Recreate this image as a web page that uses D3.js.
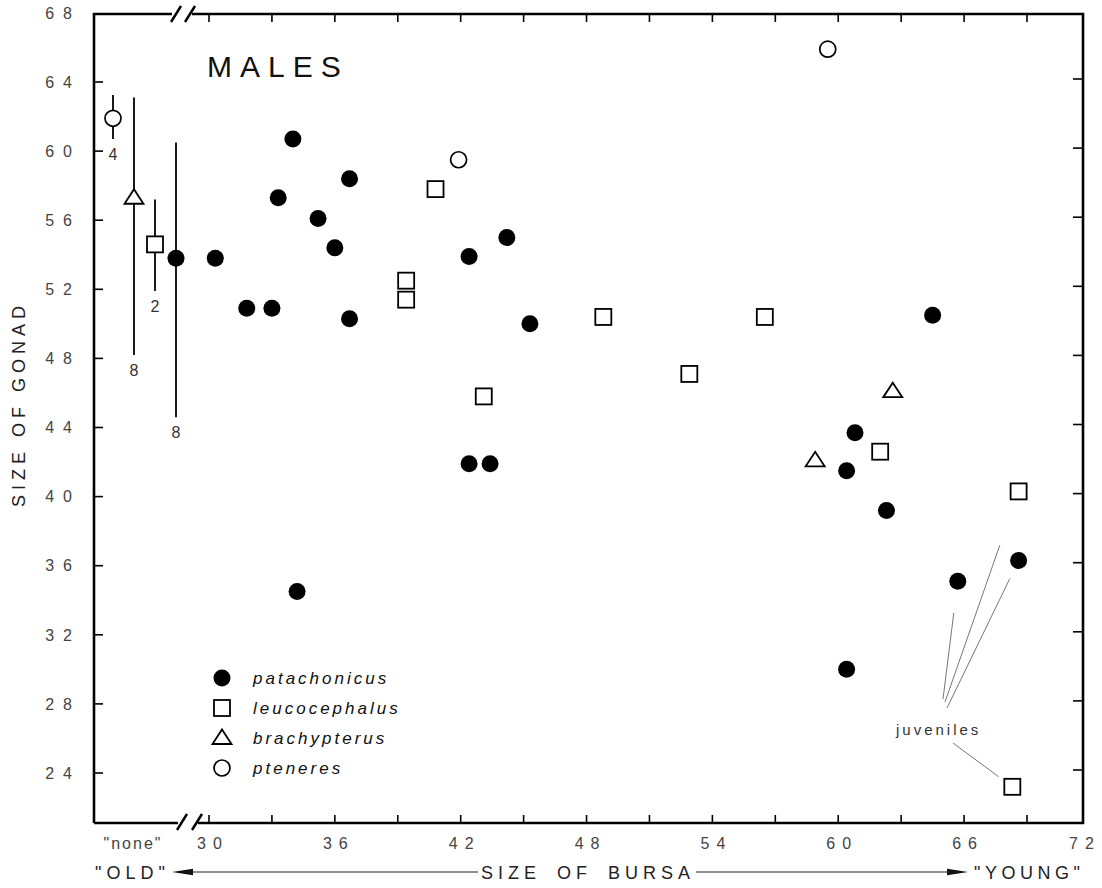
<!DOCTYPE html>
<html><head><meta charset="utf-8">
<script src="https://cdn.jsdelivr.net/npm/d3@7"></script>
<style>body{margin:0;background:#fff}svg{display:block}</style>
</head><body><svg id="c" width="1102" height="888"></svg>
<script>
// ---------- data ----------
const species = ["patachonicus", "leucocephalus", "brachypterus", "pteneres"];
const yTicks = [24, 28, 32, 36, 40, 44, 48, 52, 56, 60, 64, 68];
const xMinorTicks = [30, 33, 36, 39, 42, 45, 48, 51, 54, 57, 60, 63, 66, 69];
const xLabelTicks = [30, 36, 42, 48, 54, 60, 66, 72];

const patachonicusX = [30.3, 31.8, 33.0, 33.3, 34.0, 35.2, 36.0, 36.7, 36.7, 34.2, 42.4, 44.2, 45.3, 42.4, 43.4, 64.5, 60.8, 60.4, 62.3, 65.7, 68.6, 60.4];
const patachonicusY = [53.8, 50.9, 50.9, 57.3, 60.7, 56.1, 54.4, 58.4, 50.3, 34.5, 53.9, 55.0, 50.0, 41.9, 41.9, 50.5, 43.7, 41.5, 39.2, 35.1, 36.3, 30.0];
const leucocephalusX = [40.8, 39.4, 39.4, 43.1, 48.8, 52.9, 56.5, 62.0, 68.6, 68.3];
const leucocephalusY = [57.8, 52.5, 51.4, 45.8, 50.4, 47.1, 50.4, 42.6, 40.3, 23.2];
const brachypterusX = [58.9, 62.6];
const brachypterusY = [42.1, 46.1];
const pteneresX = [41.9, 59.5];
const pteneresY = [59.5, 65.9];

// "none" (no bursa) group: mean, upper, lower, n
const noneSpecies = ["pteneres", "brachypterus", "leucocephalus", "patachonicus"];
const noneMean = [61.9, 57.3, 54.6, 53.8];
const noneHigh = [63.25, 63.1, 57.2, 60.5];
const noneLow = [60.7, 48.2, 51.9, 44.6];
const noneN = ["4", "8", "2", "8"];

const juvenileTargets = [["patachonicus", 19], ["leucocephalus", 8], ["patachonicus", 20], ["leucocephalus", 9]];

// ---------- layout ----------
const L = 94, R = 1083, T = 14, B = 823;
const svg = d3.select("#c");
const x = d3.scaleLinear().domain([30, 69]).range([209, 1027]);
const y = d3.scaleLinear().domain([24, 64]).range([773, 82]);
const xNone = d3.scalePoint().domain(noneSpecies).range([113, 176]);
const font = "'Liberation Sans', Arial, sans-serif";

// frame with breaks
const frame = svg.append("g").attr("stroke", "#000").attr("stroke-width", 2.6).attr("fill", "none");
frame.append("path").attr("d", `M${L},${B} L${L},${T} L172,${T} M192,${T} L${R},${T} L${R},${B} L198,${B} M178,${B} L${L},${B}`)
  .attr("stroke-linejoin", "miter");
const slash = svg.append("g").attr("stroke", "#000").attr("stroke-width", 2.4);
[[171, T + 8, 181, T - 8], [185, T + 8, 195, T - 8], [177, B + 7, 187, B - 9], [192, B + 7, 202, B - 9]].forEach(s =>
  slash.append("line").attr("x1", s[0]).attr("y1", s[1]).attr("x2", s[2]).attr("y2", s[3]));

// ticks
const tk = svg.append("g").attr("stroke", "#000").attr("stroke-width", 1.6);
xMinorTicks.forEach(v => {
  tk.append("line").attr("x1", x(v)).attr("x2", x(v)).attr("y1", B).attr("y2", B - 8);
  tk.append("line").attr("x1", x(v)).attr("x2", x(v)).attr("y1", T).attr("y2", T + 8);
});
yTicks.filter(v => v < 68).forEach(v => {
  tk.append("line").attr("x1", L).attr("x2", L + 9).attr("y1", y(v)).attr("y2", y(v));
  tk.append("line").attr("x1", R).attr("x2", R - 10).attr("y1", y(v) - 3).attr("y2", y(v) - 3);
});

// tick labels
const lab = svg.append("g").attr("font-family", font).attr("font-size", 16).attr("fill", "#444");
yTicks.forEach(v => {
  lab.append("text").attr("x", 72 + 9).attr("y", y(v)).attr("dy", "0.36em").attr("text-anchor", "end")
    .attr("letter-spacing", 9).text(String(v));
});
xLabelTicks.forEach(v => {
  lab.append("text").attr("x", Math.min(x(v), R - 2) + 4).attr("y", 849).attr("text-anchor", "middle")
    .attr("letter-spacing", 7).text(String(v));
});
lab.append("text").attr("x", 133).attr("y", 849).attr("text-anchor", "middle").attr("letter-spacing", 2).text('"none"');

// axis titles
const ttl = svg.append("g").attr("font-family", font).attr("fill", "#222");
ttl.append("text").attr("transform", "translate(25,404) rotate(-90)").attr("text-anchor", "middle")
  .attr("font-size", 18).attr("letter-spacing", 5).text("SIZE OF GONAD");
ttl.append("text").attr("x", 95).attr("y", 879).attr("font-size", 18).attr("letter-spacing", 5).text('"OLD"');
ttl.append("text").attr("x", 481).attr("y", 879).attr("font-size", 18).attr("letter-spacing", 5).attr("word-spacing", 6).text("SIZE OF BURSA");
ttl.append("text").attr("x", 974).attr("y", 879).attr("font-size", 18).attr("letter-spacing", 4.5).text('"YOUNG"');
const arr = svg.append("g");
arr.append("line").attr("x1", 185).attr("x2", 478).attr("y1", 872).attr("y2", 872).attr("stroke", "#222").attr("stroke-width", 1.2);
arr.append("path").attr("d", "M172,872 L193,868.8 L193,875.2 Z").attr("fill", "#111");
arr.append("line").attr("x1", 696).attr("x2", 955).attr("y1", 872).attr("y2", 872).attr("stroke", "#222").attr("stroke-width", 1.2);
arr.append("path").attr("d", "M968,872 L947,868.8 L947,875.2 Z").attr("fill", "#111");

// chart title
svg.append("text").attr("x", 207).attr("y", 77).attr("font-family", font).attr("font-size", 30)
  .attr("letter-spacing", 8).attr("fill", "#111").text("MALES");

// ---------- markers ----------
function marker(g, kind, cx, cy) {
  if (kind === "patachonicus") g.append("circle").attr("cx", cx).attr("cy", cy).attr("r", 8.5).attr("fill", "#000");
  else if (kind === "leucocephalus") g.append("rect").attr("x", cx - 8).attr("y", cy - 8).attr("width", 16).attr("height", 16)
    .attr("fill", "#fff").attr("stroke", "#000").attr("stroke-width", 1.8);
  else if (kind === "brachypterus") g.append("path").attr("d", `M${cx},${cy - 8.5} L${cx + 9.5},${cy + 6} L${cx - 9.5},${cy + 6} Z`)
    .attr("fill", "#fff").attr("stroke", "#000").attr("stroke-width", 1.8).attr("stroke-linejoin", "miter");
  else g.append("circle").attr("cx", cx).attr("cy", cy).attr("r", 8).attr("fill", "#fff").attr("stroke", "#000").attr("stroke-width", 1.7);
}

// none group error bars
const ng = svg.append("g");
noneSpecies.forEach((s, i) => {
  ng.append("line").attr("x1", xNone(s)).attr("x2", xNone(s)).attr("y1", y(noneHigh[i])).attr("y2", y(noneLow[i]))
    .attr("stroke", "#000").attr("stroke-width", 1.8);
});
noneSpecies.forEach((s, i) => marker(ng, s, xNone(s), y(noneMean[i])));
noneSpecies.forEach((s, i) => {
  ng.append("text").attr("x", xNone(s)).attr("y", y(noneLow[i]) + 21).attr("text-anchor", "middle")
    .attr("font-family", font).attr("font-size", 16).attr("fill", "#333").text(noneN[i]);
});

// juvenile annotation (drawn before markers)
const seriesX = {patachonicus: patachonicusX, leucocephalus: leucocephalusX};
const seriesY = {patachonicus: patachonicusY, leucocephalus: leucocephalusY};
const jStarts = [[943, 699], [945, 702], [947, 708], [953, 743]];
const jGaps = [32, 57, 20, 17];
const jg = svg.append("g").attr("stroke", "#777").attr("stroke-width", 1);
juvenileTargets.forEach((t, i) => {
  const tx = x(seriesX[t[0]][t[1]]), ty = y(seriesY[t[0]][t[1]]);
  const [sx, sy] = jStarts[i];
  const d = Math.hypot(tx - sx, ty - sy);
  jg.append("line").attr("x1", sx).attr("y1", sy)
    .attr("x2", tx - (tx - sx) * jGaps[i] / d).attr("y2", ty - (ty - sy) * jGaps[i] / d);
});
svg.append("text").attr("x", 896).attr("y", 735).attr("font-family", font).attr("font-size", 15)
  .attr("letter-spacing", 3).attr("fill", "#333").text("juveniles");

const mg = svg.append("g");
patachonicusX.forEach((v, i) => marker(mg, "patachonicus", x(v), y(patachonicusY[i])));
leucocephalusX.forEach((v, i) => marker(mg, "leucocephalus", x(v), y(leucocephalusY[i])));
brachypterusX.forEach((v, i) => marker(mg, "brachypterus", x(v), y(brachypterusY[i])));
pteneresX.forEach((v, i) => marker(mg, "pteneres", x(v), y(pteneresY[i])));

// legend
const lg = svg.append("g");
species.forEach((s, i) => {
  const cy = 678 + i * 30;
  marker(lg, s, 222, cy);
  lg.append("text").attr("x", 253).attr("y", cy).attr("dy", "0.35em").attr("font-family", font)
    .attr("font-style", "italic").attr("font-size", 17).attr("letter-spacing", 3).attr("fill", "#111").text(s);
});
</script>
</body></html>
